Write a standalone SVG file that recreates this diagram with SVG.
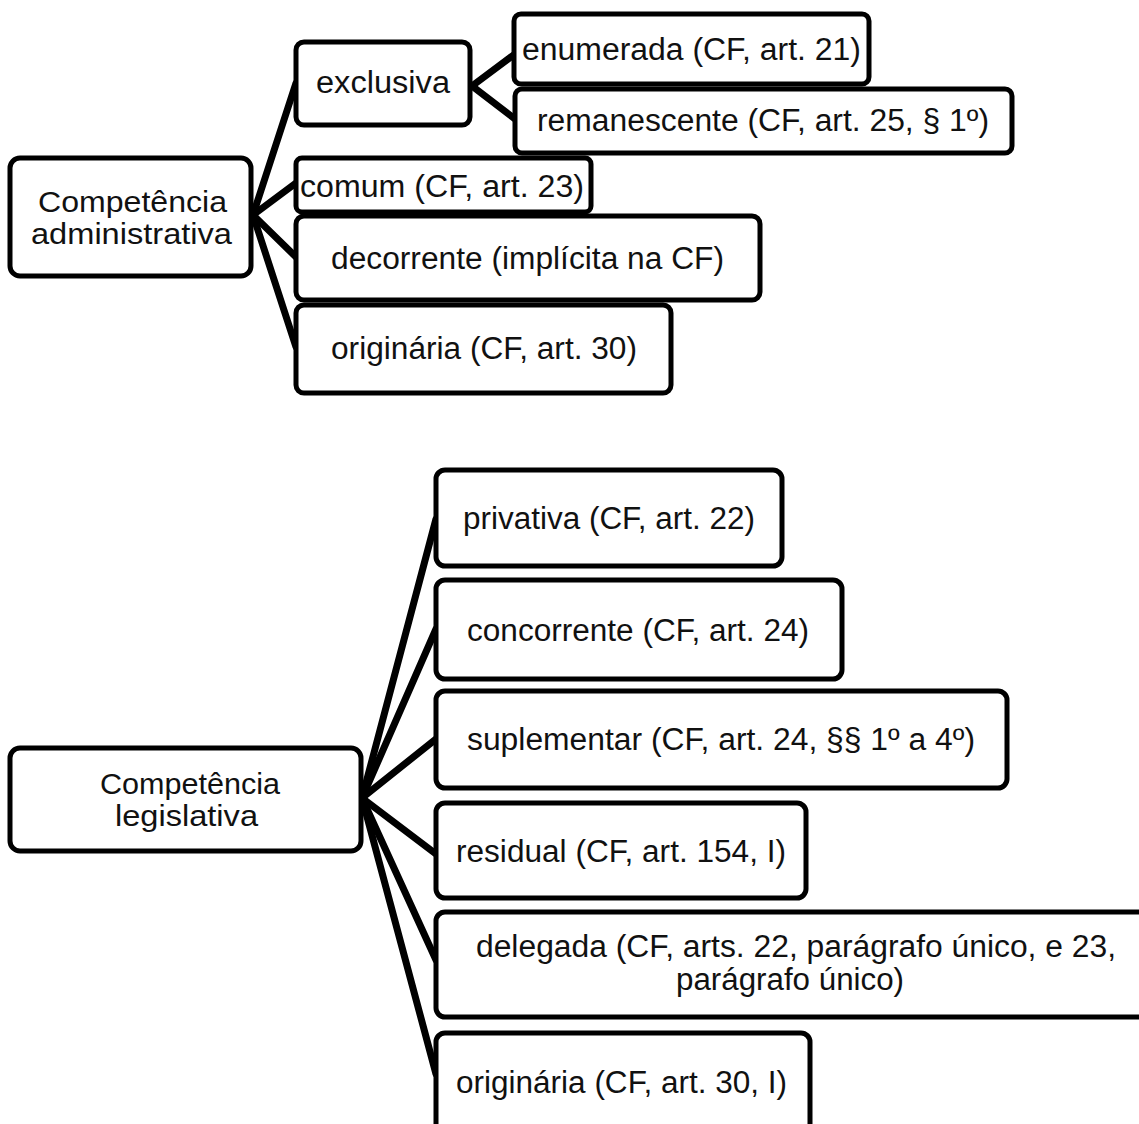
<svg xmlns="http://www.w3.org/2000/svg" width="1139" height="1124" viewBox="0 0 1139 1124">
<style>
  .box { fill: #fff; stroke: #000; stroke-width: 5; }
  .t { font-family: "Liberation Sans", Arial, sans-serif; font-size: 31px; fill: #111; }
  .r { font-size: 30px; }
  .edge { stroke: #000; stroke-width: 7; stroke-linecap: round; fill: none; }
</style>
<rect x="0" y="0" width="1139" height="1124" fill="#fff"/>
<g id="connectors">
  <line class="edge" x1="253" y1="215" x2="296" y2="83"/>
  <line class="edge" x1="253" y1="215" x2="296" y2="183"/>
  <line class="edge" x1="253" y1="215" x2="296" y2="257"/>
  <line class="edge" x1="253" y1="215" x2="296" y2="347"/>
  <line class="edge" x1="472" y1="86" x2="515" y2="54"/>
  <line class="edge" x1="472" y1="86" x2="515" y2="119"/>
  <line class="edge" x1="362" y1="798" x2="436" y2="519"/>
  <line class="edge" x1="362" y1="798" x2="436" y2="629"/>
  <line class="edge" x1="362" y1="798" x2="436" y2="739"/>
  <line class="edge" x1="362" y1="798" x2="436" y2="854"/>
  <line class="edge" x1="362" y1="798" x2="436" y2="960"/>
  <line class="edge" x1="362" y1="798" x2="436" y2="1074"/>
</g>
<g id="n-admin">
  <rect class="box" x="10" y="158" width="241" height="118" rx="10"/>
  <text class="t r" x="38" y="212" textLength="189" lengthAdjust="spacingAndGlyphs">Competência</text>
  <text class="t r" x="31" y="244" textLength="201" lengthAdjust="spacingAndGlyphs">administrativa</text>
</g>
<g id="n-exclusiva">
  <rect class="box" x="296" y="42" width="174" height="83" rx="8"/>
  <text class="t" x="316" y="93" textLength="134" lengthAdjust="spacingAndGlyphs">exclusiva</text>
</g>
<g id="n-enumerada">
  <rect class="box" x="514" y="14" width="355" height="70" rx="7"/>
  <text class="t" x="522" y="60" textLength="339" lengthAdjust="spacingAndGlyphs">enumerada (CF, art. 21)</text>
</g>
<g id="n-remanescente">
  <rect class="box" x="515" y="89" width="497" height="64" rx="7"/>
  <text class="t" x="537" y="131" textLength="452" lengthAdjust="spacingAndGlyphs">remanescente (CF, art. 25, § 1º)</text>
</g>
<g id="n-comum">
  <rect class="box" x="296" y="158" width="295" height="54" rx="6"/>
  <text class="t" x="300" y="197" textLength="284" lengthAdjust="spacingAndGlyphs">comum (CF, art. 23)</text>
</g>
<g id="n-decorrente">
  <rect class="box" x="296" y="216" width="464" height="84" rx="8"/>
  <text class="t" x="331" y="269" textLength="393" lengthAdjust="spacingAndGlyphs">decorrente (implícita na CF)</text>
</g>
<g id="n-originaria-adm">
  <rect class="box" x="296" y="305" width="375" height="88" rx="8"/>
  <text class="t" x="331" y="359" textLength="306" lengthAdjust="spacingAndGlyphs">originária (CF, art. 30)</text>
</g>
<g id="n-legis">
  <rect class="box" x="10" y="748" width="351" height="103" rx="10"/>
  <text class="t r" x="100" y="794" textLength="180" lengthAdjust="spacingAndGlyphs">Competência</text>
  <text class="t r" x="115" y="826" textLength="143" lengthAdjust="spacingAndGlyphs">legislativa</text>
</g>
<g id="n-privativa">
  <rect class="box" x="436" y="470" width="346" height="96" rx="9"/>
  <text class="t" x="463" y="529" textLength="292" lengthAdjust="spacingAndGlyphs">privativa (CF, art. 22)</text>
</g>
<g id="n-concorrente">
  <rect class="box" x="436" y="580" width="406" height="99" rx="9"/>
  <text class="t" x="467" y="641" textLength="342" lengthAdjust="spacingAndGlyphs">concorrente (CF, art. 24)</text>
</g>
<g id="n-suplementar">
  <rect class="box" x="436" y="691" width="571" height="97" rx="9"/>
  <text class="t" x="467" y="750" textLength="508" lengthAdjust="spacingAndGlyphs">suplementar (CF, art. 24, §§ 1º a 4º)</text>
</g>
<g id="n-residual">
  <rect class="box" x="436" y="803" width="370" height="95" rx="9"/>
  <text class="t" x="456" y="862" textLength="330" lengthAdjust="spacingAndGlyphs">residual (CF, art. 154, I)</text>
</g>
<g id="n-delegada">
  <rect class="box" x="436" y="912" width="730" height="105" rx="9"/>
  <text class="t" x="476" y="957" textLength="640" lengthAdjust="spacingAndGlyphs">delegada (CF, arts. 22, parágrafo único, e 23,</text>
  <text class="t" x="676" y="990" textLength="228" lengthAdjust="spacingAndGlyphs">parágrafo único)</text>
</g>
<g id="n-originaria-leg">
  <rect class="box" x="436" y="1033" width="374" height="110" rx="9"/>
  <text class="t" x="456" y="1093" textLength="331" lengthAdjust="spacingAndGlyphs">originária (CF, art. 30, I)</text>
</g>
</svg>
